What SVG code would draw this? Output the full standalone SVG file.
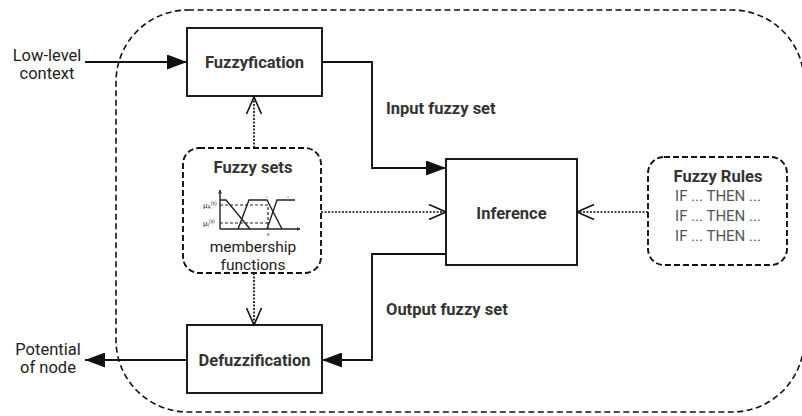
<svg xmlns="http://www.w3.org/2000/svg" width="802" height="416" viewBox="0 0 802 416">
  <defs>
    <marker id="solidHead" markerWidth="20" markerHeight="15" refX="20" refY="7.5" orient="auto" markerUnits="userSpaceOnUse">
      <path d="M0,0 L20,7.5 L0,15 Z" fill="#111"/>
    </marker>
    <marker id="openHead" markerWidth="20" markerHeight="18" refX="18" refY="9" orient="auto" markerUnits="userSpaceOnUse">
      <path d="M1,1.5 L18,9 L1,16.5" fill="none" stroke="#111" stroke-width="1.6"/>
    </marker>
    <marker id="tinyHead" markerWidth="4" markerHeight="4" refX="3.5" refY="2" orient="auto" markerUnits="userSpaceOnUse">
      <path d="M0,0 L4,2 L0,4 Z" fill="#333"/>
    </marker>
  </defs>
  <style>
    .box { fill: #fff; stroke: #111; stroke-width: 1.9; }
    .group { fill: #fff; stroke: #111; stroke-width: 1.9; stroke-dasharray: 6 3; }
    .outer { fill: none; stroke: #111; stroke-width: 1.6; stroke-dasharray: 6 3.5; }
    .flow { fill: none; stroke: #111; stroke-width: 1.9; }
    .dot { fill: none; stroke: #111; stroke-width: 1.7; stroke-dasharray: 2 1.5; }
    .title { font-family: Roboto, "Liberation Sans", sans-serif; font-weight: 700; font-size: 16.5px; fill: #333; text-anchor: middle; }
    .label { font-family: Roboto, "Liberation Sans", sans-serif; font-size: 16.5px; fill: #222; text-anchor: middle; }
    .rule { font-family: Roboto, "Liberation Sans", sans-serif; font-size: 15px; fill: #555; text-anchor: middle; }
    .chart { fill: none; stroke: #222; stroke-width: 1.4; }
    .chartDash { fill: none; stroke: #222; stroke-width: 1.2; stroke-dasharray: 3 2; }
    .tiny { font-family: Roboto, "Liberation Sans", sans-serif; font-size: 8px; fill: #333; }
  </style>

  <!-- outer boundary of the fuzzy system -->
  <rect class="outer" x="116" y="10" width="688" height="402" rx="72" ry="72"/>

  <g id="connectors">
    <!-- solid data flow -->
    <line class="flow" x1="85" y1="62" x2="187" y2="62" marker-end="url(#solidHead)"/>
    <polyline class="flow" points="322,62 372,62 372,168 446,168" marker-end="url(#solidHead)"/>
    <polyline class="flow" points="446,254 372,254 372,360 322,360" marker-end="url(#solidHead)"/>
    <line class="flow" x1="187" y1="360" x2="85" y2="360" marker-end="url(#solidHead)"/>
    <!-- dotted knowledge links -->
    <line class="dot" x1="254" y1="148" x2="254" y2="97" marker-end="url(#openHead)"/>
    <line class="dot" x1="254" y1="273" x2="254" y2="325" marker-end="url(#openHead)"/>
    <line class="dot" x1="321" y1="212" x2="446" y2="212" marker-end="url(#openHead)"/>
    <line class="dot" x1="648" y1="212" x2="577" y2="212" marker-end="url(#openHead)"/>
  </g>

  <g id="input-label">
    <text class="label" x="47" y="61">Low-level</text>
    <text class="label" x="47" y="79">context</text>
  </g>

  <g id="output-label">
    <text class="label" x="48" y="355">Potential</text>
    <text class="label" x="48" y="373">of node</text>
  </g>

  <g id="fuzzyfication">
    <rect class="box" x="187" y="28" width="135" height="68"/>
    <text class="title" x="254.5" y="68">Fuzzyfication</text>
  </g>

  <g id="defuzzification">
    <rect class="box" x="187" y="325" width="135" height="68"/>
    <text class="title" x="254.5" y="366">Defuzzification</text>
  </g>

  <g id="inference">
    <rect class="box" x="446" y="159" width="131" height="106"/>
    <text class="title" x="511.5" y="219">Inference</text>
  </g>

  <g id="edge-labels">
    <text class="title" x="386" y="114" style="text-anchor:start">Input fuzzy set</text>
    <text class="title" x="386" y="315" style="text-anchor:start">Output fuzzy set</text>
  </g>

  <g id="fuzzy-sets">
    <rect class="group" x="183" y="148" width="138" height="125" rx="16" ry="16"/>
    <text class="title" x="253" y="173">Fuzzy sets</text>
    <!-- membership function plot -->
    <line class="chart" x1="220" y1="229" x2="220" y2="190" marker-end="url(#tinyHead)"/>
    <line class="chart" x1="220" y1="229" x2="300" y2="229" marker-end="url(#tinyHead)"/>
    <polyline class="chart" points="220,200 226,200 250,229"/>
    <polyline class="chart" points="238,229 249,200 267,200 282,229"/>
    <polyline class="chart" points="267,229 277,200 295,200"/>
    <polyline class="chartDash" points="220,205 268,205 268,229"/>
    <line class="chartDash" x1="220" y1="223" x2="268" y2="223"/>
    <circle cx="267" cy="197" r="0.6" fill="#555"/>
    <circle cx="288" cy="197" r="0.6" fill="#555"/>
    <text class="tiny" x="203" y="208">μ<tspan font-size="5" dy="1">A</tspan><tspan font-size="5" dy="-4">(x)</tspan></text>
    <text class="tiny" x="203" y="226">μ<tspan font-size="5" dy="1">I</tspan><tspan font-size="5" dy="-4">(x)</tspan></text>
    <text class="tiny" x="267" y="236" style="font-size:5px">x</text>
    <text class="label" x="253" y="252" style="font-size:15.5px">membership</text>
    <text class="label" x="253" y="270" style="font-size:15.5px">functions</text>
  </g>

  <g id="fuzzy-rules">
    <rect class="group" x="648" y="157" width="139" height="108" rx="16" ry="16"/>
    <text class="title" x="718" y="182">Fuzzy Rules</text>
    <text class="rule" x="718" y="201">IF ... THEN ...</text>
    <text class="rule" x="718" y="221">IF ... THEN ...</text>
    <text class="rule" x="718" y="241">IF ... THEN ...</text>
  </g>
</svg>
